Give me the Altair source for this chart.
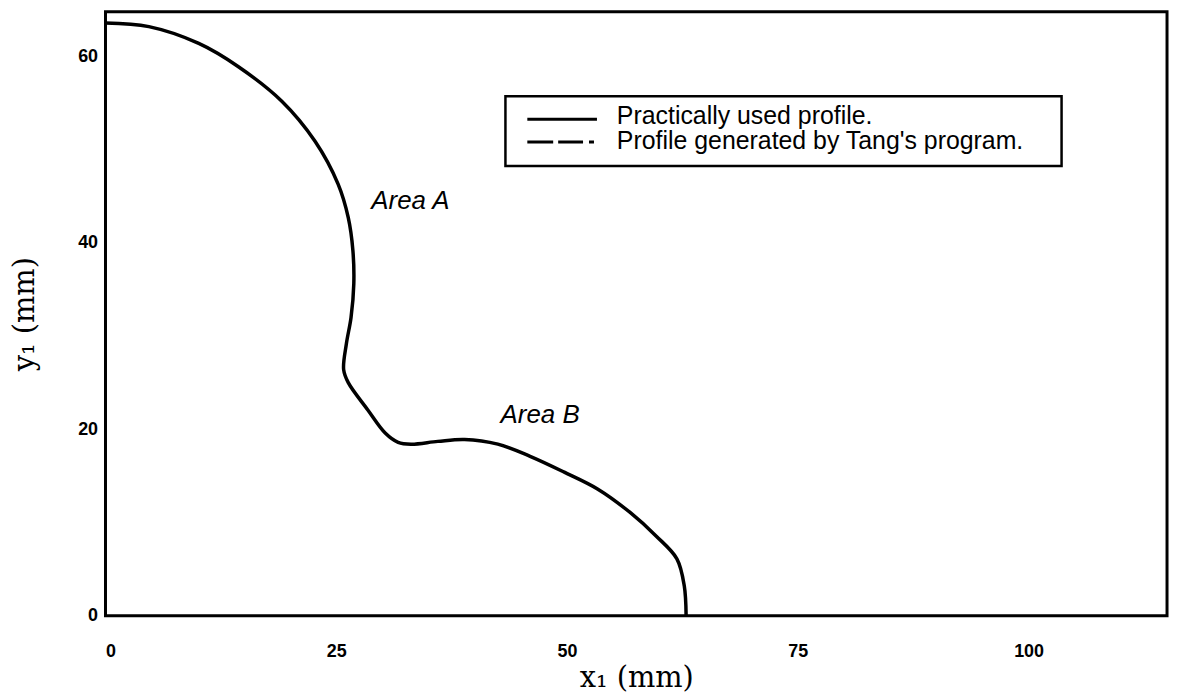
import altair as alt
import pandas as pd

# Profile (x1, y1 in mm)
x_mm = [0.0, 4.7, 10.1, 14.4, 19.1, 22.7, 25.2, 26.3, 26.8, 26.9, 26.6, 26.1, 25.8,
        26.3, 28.4, 30.3, 31.7, 33.1, 36.0, 38.9, 42.5, 46.0, 49.7, 53.3, 56.8,
        59.7, 61.9, 62.7, 62.9]
y_mm = [63.6, 63.2, 61.4, 58.9, 55.2, 50.9, 46.3, 42.7, 39.2, 35.6, 32.0, 29.2, 26.4,
        25.0, 22.1, 19.6, 18.6, 18.4, 18.7, 18.9, 18.4, 17.1, 15.4, 13.6, 11.1,
        8.5, 6.1, 3.2, 0.0]

x_ticks = [0, 25, 50, 75, 100]
y_ticks = [0, 20, 40, 60]

legend_labels = ["Practically used profile.", "Profile generated by Tang's program."]

area_labels = ["Area A", "Area B"]
area_x = [28.8, 42.8]
area_y = [43.6, 20.7]

profile = pd.DataFrame({"x": x_mm, "y": y_mm, "i": list(range(len(x_mm)))})
areas = pd.DataFrame({"x": area_x, "y": area_y, "label": area_labels})

xscale = alt.Scale(domain=[0, 115], nice=False, zero=False)
yscale = alt.Scale(domain=[0, 64.8], nice=False, zero=False)

x_axis = alt.Axis(values=x_ticks, format="d", grid=False, ticks=False, domain=False,
                  labelFont="Liberation Sans", labelFontWeight="bold", labelFontSize=18,
                  labelColor="black", labelPadding=27,
                  title="x\u2081 (mm)", titleFont="DejaVu Serif", titleFontSize=29,
                  titleFontWeight="normal", titleColor="black",
                  titleY=71, titleBaseline="alphabetic")
y_axis = alt.Axis(values=y_ticks, format="d", grid=False, ticks=False, domain=False,
                  labelFont="Liberation Sans", labelFontWeight="bold", labelFontSize=18,
                  labelColor="black", labelPadding=8,
                  title="y\u2081 (mm)", titleFont="DejaVu Serif", titleFontSize=29,
                  titleFontWeight="normal", titleColor="black",
                  titleX=-81, titleBaseline="middle")

line = alt.Chart(profile).mark_line(color="black", strokeWidth=3.5, strokeJoin="round",
                                    interpolate="catmull-rom").encode(
    x=alt.X("x:Q", scale=xscale, axis=x_axis),
    y=alt.Y("y:Q", scale=yscale, axis=y_axis),
    order="i:Q",
)

area_text = alt.Chart(areas).mark_text(
    align="left", baseline="alphabetic", font="Liberation Sans", fontSize=26,
    fontStyle="italic", color="black"
).encode(
    x=alt.X("x:Q", scale=xscale),
    y=alt.Y("y:Q", scale=yscale),
    text="label:N",
)

one = pd.DataFrame({"k": [0]})

legend_box = alt.Chart(one).mark_rect(fill="white", stroke="black", strokeWidth=2.5).encode(
    x=alt.value(402), x2=alt.value(961), y=alt.value(85), y2=alt.value(155)
)
legend_solid = alt.Chart(one).mark_rule(color="black", strokeWidth=3).encode(
    x=alt.value(424), x2=alt.value(494), y=alt.value(108)
)
legend_dash = alt.Chart(one).mark_rule(color="black", strokeWidth=3,
                                       strokeDash=[26, 5, 25, 6, 5, 40]).encode(
    x=alt.value(424), x2=alt.value(494), y=alt.value(131)
)
legend_t1 = alt.Chart(pd.DataFrame({"t": [legend_labels[0]]})).mark_text(
    align="left", baseline="alphabetic", font="Liberation Sans", fontSize=25, color="black"
).encode(x=alt.value(514), y=alt.value(113), text="t:N")
legend_t2 = alt.Chart(pd.DataFrame({"t": [legend_labels[1]]})).mark_text(
    align="left", baseline="alphabetic", font="Liberation Sans", fontSize=25, color="black"
).encode(x=alt.value(514), y=alt.value(138), text="t:N")

chart = alt.layer(
    line, area_text, legend_box, legend_solid, legend_dash, legend_t1, legend_t2
).properties(
    width=1067, height=607,
    autosize=alt.AutoSizeParams(type="none"),
    padding={"left": 98, "top": 2, "right": 5, "bottom": 80},
    background="white",
).configure_view(stroke="black", strokeWidth=3)

chart.save("out.html", embed_options={"renderer": "svg", "actions": False})
